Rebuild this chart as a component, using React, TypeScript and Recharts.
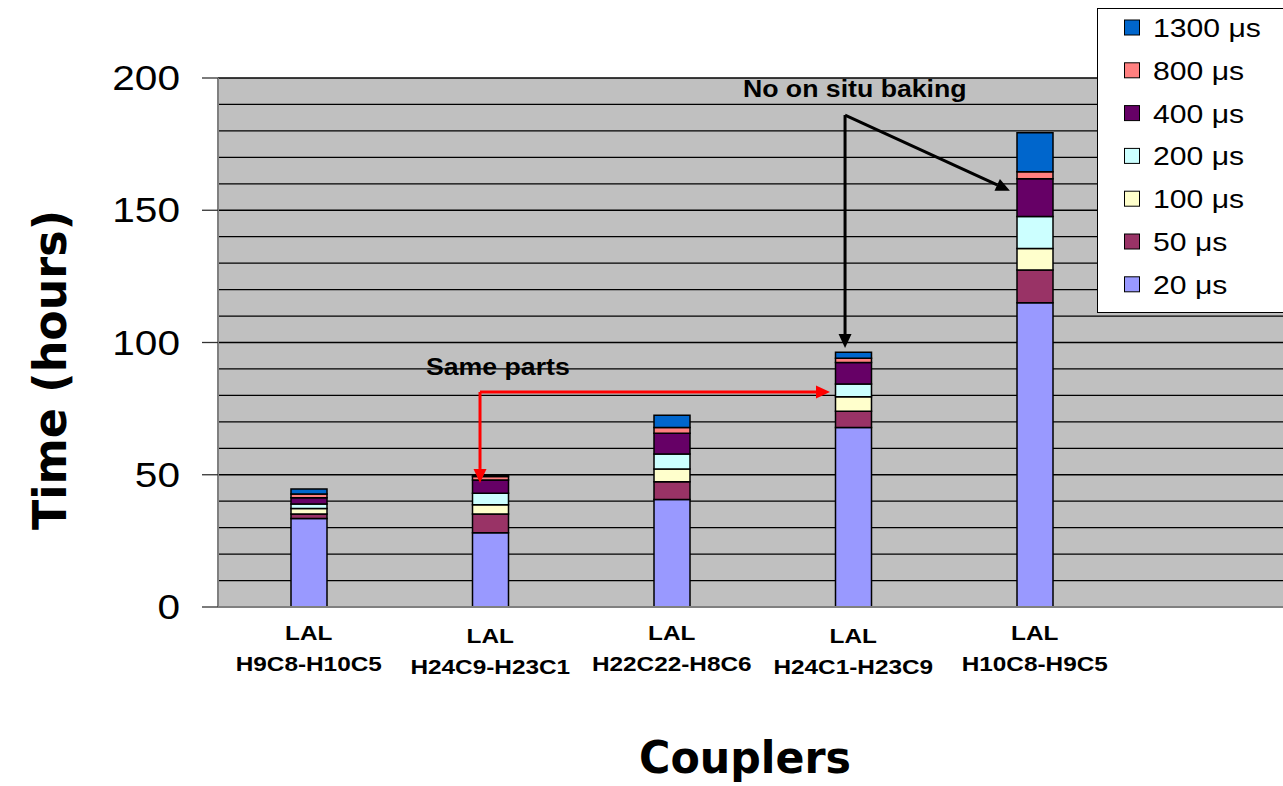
import React from "react";
import {
  BarChart,
  Bar,
  XAxis,
  YAxis,
  CartesianGrid,
  Legend,
  ReferenceLine,
  ReferenceDot,
} from "recharts";

// categories (two-line tick labels); the 6th slot is empty in the original sheet
const couplerTop = ["LAL", "LAL", "LAL", "LAL", "LAL", ""];
const couplerBottom = ["H9C8-H10C5", "H24C9-H23C1", "H22C22-H8C6", "H24C1-H23C9", "H10C8-H9C5", ""];

// hours spent at each pulse length, bottom to top of the stack
const pulse20 = [33.5, 28.1, 40.6, 67.9, 115.0];
const pulse50 = [1.7, 7.1, 6.8, 6.1, 12.4];
const pulse100 = [2.0, 3.5, 4.8, 5.5, 8.1];
const pulse200 = [1.7, 4.3, 5.6, 4.8, 12.1];
const pulse400 = [2.4, 5.0, 7.9, 8.1, 14.3];
const pulse800 = [1.4, 1.3, 2.2, 1.6, 2.7];
const pulse1300 = [1.9, 0.6, 4.6, 2.3, 14.7];

const seriesNames = ["20 μs", "50 μs", "100 μs", "200 μs", "400 μs", "800 μs", "1300 μs"];
const seriesColors = ["#9999FF", "#993366", "#FFFFCC", "#CCFFFF", "#660066", "#FF8080", "#0066CC"];
const seriesValues = [pulse20, pulse50, pulse100, pulse200, pulse400, pulse800, pulse1300];

const yTicks = [0, 50, 100, 150, 200];
const gridValues = [10, 20, 30, 40, 50, 60, 70, 80, 90, 100, 110, 120, 130, 140, 150, 160, 170, 180, 190, 200];

const rows = couplerBottom.map((name, i) => {
  const row: any = { name };
  seriesValues.forEach((vals, s) => {
    row["s" + s] = vals[i];
  });
  return row;
});

const STRETCH = 1.16;
const SANS = "'Liberation Sans', Arial, sans-serif";

function Stretched({ x, y, size, weight, anchor, fill, children }: any) {
  return (
    <g transform={`translate(${x},${y}) scale(${STRETCH},1)`}>
      <text x={0} y={0} fontSize={size} fontWeight={weight} textAnchor={anchor} fill={fill || "#000"} fontFamily={SANS}>
        {children}
      </text>
    </g>
  );
}

function CouplerTick({ x, y, payload }: any) {
  const i = couplerBottom.indexOf(payload.value);
  if (i < 0 || !couplerBottom[i]) return null;
  const drop = i % 2 === 1 ? 3 : 0;
  return (
    <g>
      <Stretched x={x} y={y + 33 + drop} size={21} weight="bold" anchor="middle">
        {couplerTop[i]}
      </Stretched>
      <Stretched x={x} y={y + 64 + drop} size={21} weight="bold" anchor="middle">
        {couplerBottom[i]}
      </Stretched>
    </g>
  );
}

function HourTick({ x, y, payload }: any) {
  return (
    <Stretched x={x} y={y + 12} size={35} weight="normal" anchor="end">
      {payload.value}
    </Stretched>
  );
}

function Arrow(props: any) {
  const { x1, y1, x2, y2, stroke } = props;
  const ang = Math.atan2(y2 - y1, x2 - x1);
  const len = 14;
  const half = 6.5;
  const bx = x2 - len * Math.cos(ang);
  const by = y2 - len * Math.sin(ang);
  const px = -Math.sin(ang) * half;
  const py = Math.cos(ang) * half;
  return (
    <g>
      <line x1={x1} y1={y1} x2={bx} y2={by} stroke={stroke} strokeWidth={3} />
      <polygon points={`${x2},${y2} ${bx + px},${by + py} ${bx - px},${by - py}`} fill={stroke} />
    </g>
  );
}

function Note(text: string) {
  return (props: any) => (
    <Stretched x={props.cx} y={props.cy} size={23} weight="bold" anchor="start">
      {text}
    </Stretched>
  );
}

function LegendBox() {
  const order = seriesNames.map((_, i) => i).reverse();
  return (
    <svg width={220} height={305} style={{ display: "block" }}>
      <rect x={0.5} y={0.5} width={219} height={304} fill="#fff" stroke="#000" strokeWidth={1} />
      {order.map((s, k) => {
        const cy = 20 + k * 42.8;
        return (
          <g key={s}>
            <rect x={27.5} y={cy - 8} width={15} height={15} fill={seriesColors[s]} stroke="#000" strokeWidth={1} />
            <Stretched x={56} y={cy + 9} size={26} weight="normal" anchor="start">
              {seriesNames[s]}
            </Stretched>
          </g>
        );
      })}
    </svg>
  );
}

export default function App() {
  return (
    <div
      style={{
        position: "absolute",
        left: 0,
        top: 0,
        width: 1283,
        height: 786,
        overflow: "hidden",
        background: "#fff",
      }}
    >
      <BarChart
        width={1320}
        height={786}
        data={rows}
        margin={{ top: 78, right: 13, left: 0, bottom: 0 }}
        barCategoryGap={0}
      >
        <CartesianGrid
          vertical={false}
          horizontalValues={gridValues}
          stroke="#000"
          strokeWidth={1.3}
          fill="#C0C0C0"
          fillOpacity={1}
        />
        <XAxis
          dataKey="name"
          interval={0}
          tickLine={false}
          tickSize={0}
          tickMargin={0}
          height={179}
          axisLine={{ stroke: "#808080", strokeWidth: 2 }}
          tick={<CouplerTick />}
        />
        <XAxis xAxisId="pos" type="number" domain={[0, 5]} allowDataOverflow hide />
        <YAxis
          width={218}
          domain={[0, 200]}
          ticks={yTicks}
          interval={0}
          tickSize={16}
          tickMargin={22}
          tickLine={{ stroke: "#333", strokeWidth: 1.3 }}
          axisLine={{ stroke: "#808080", strokeWidth: 2 }}
          tick={<HourTick />}
        />
        <Legend
          layout="horizontal"
          verticalAlign="middle"
          align="center"
          content={<LegendBox />}
          wrapperStyle={{ left: 1097, top: 8, width: 220, height: 305 }}
        />
        {seriesNames.map((n, s) => (
          <Bar
            key={n}
            dataKey={"s" + s}
            name={n}
            stackId="t"
            fill={seriesColors[s]}
            stroke="#000"
            strokeWidth={1.5}
            barSize={36}
            isAnimationActive={false}
          />
        ))}
        <ReferenceLine
          xAxisId="pos"
          segment={[{ x: 2.879, y: 186 }, { x: 2.879, y: 97.9 }]}
          stroke="#000"
          shape={Arrow}
          ifOverflow="visible"
        />
        <ReferenceLine
          xAxisId="pos"
          segment={[{ x: 2.879, y: 186 }, { x: 3.636, y: 157.4 }]}
          stroke="#000"
          shape={Arrow}
          ifOverflow="visible"
        />
        <ReferenceLine
          xAxisId="pos"
          segment={[{ x: 1.203, y: 81.3 }, { x: 2.81, y: 81.3 }]}
          stroke="#FF0000"
          shape={Arrow}
          ifOverflow="visible"
        />
        <ReferenceLine
          xAxisId="pos"
          segment={[{ x: 1.203, y: 81.3 }, { x: 1.203, y: 46.9 }]}
          stroke="#FF0000"
          shape={Arrow}
          ifOverflow="visible"
        />
        <ReferenceDot xAxisId="pos" x={2.41} y={192.8} r={0} ifOverflow="visible" shape={Note("No on situ baking")} />
        <ReferenceDot xAxisId="pos" x={0.955} y={87.7} r={0} ifOverflow="visible" shape={Note("Same parts")} />
      </BarChart>
      <svg
        width={1283}
        height={786}
        style={{ position: "absolute", left: 0, top: 0, pointerEvents: "none" }}
      >
        <text
          x={745}
          y={773}
          textAnchor="middle"
          fontFamily="'DejaVu Sans', sans-serif"
          fontWeight="bold"
          fontSize={44}
          textLength={212}
          lengthAdjust="spacingAndGlyphs"
        >
          Couplers
        </text>
        <text
          transform="translate(66,370) rotate(-90)"
          x={0}
          y={0}
          textAnchor="middle"
          fontFamily="'DejaVu Sans', sans-serif"
          fontWeight="bold"
          fontSize={46}
          textLength={320}
          lengthAdjust="spacingAndGlyphs"
        >
          Time  (hours)
        </text>
      </svg>
    </div>
  );
}
